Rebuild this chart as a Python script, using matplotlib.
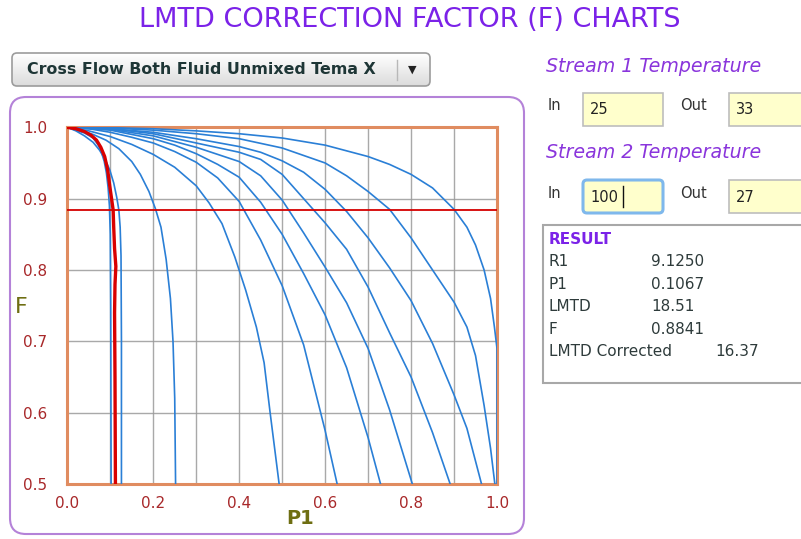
import numpy as np
import matplotlib
matplotlib.use("Agg")
import matplotlib.pyplot as plt
from matplotlib.patches import FancyBboxPatch, Rectangle

# ---------------- data ----------------
title_text = "LMTD CORRECTION FACTOR (F) CHARTS"
dropdown_text = "Cross Flow Both Fluid Unmixed Tema X"

x_ticks = [0.0, 0.2, 0.4, 0.6, 0.8, 1.0]
x_tick_labels = ["0.0", "0.2", "0.4", "0.6", "0.8", "1.0"]
y_ticks = [0.5, 0.6, 0.7, 0.8, 0.9, 1.0]
y_tick_labels = ["0.5", "0.6", "0.7", "0.8", "0.9", "1.0"]

# blue family curves (P1, F)
c1_p = [0, 0.02, 0.04, 0.06, 0.072, 0.08, 0.086, 0.091, 0.095, 0.098, 0.100, 0.101, 0.102]
c1_f = [1, 0.996, 0.992, 0.985, 0.975, 0.964, 0.952, 0.936, 0.915, 0.89, 0.85, 0.75, 0.50]
c2_p = [0, 0.02, 0.04, 0.06, 0.075, 0.088, 0.099, 0.108, 0.115, 0.120, 0.123, 0.125, 0.126, 0.126]
c2_f = [1, 0.995, 0.988, 0.979, 0.968, 0.955, 0.94, 0.922, 0.902, 0.884, 0.86, 0.82, 0.70, 0.50]
c3_p = [0, 0.03, 0.06, 0.09, 0.12, 0.15, 0.17, 0.19, 0.205, 0.218, 0.230, 0.240, 0.246, 0.250, 0.252]
c3_f = [1, 0.996, 0.99, 0.982, 0.97, 0.952, 0.934, 0.91, 0.886, 0.86, 0.815, 0.76, 0.70, 0.62, 0.50]
c4_p = [0, 0.05, 0.10, 0.15, 0.20, 0.25, 0.30, 0.33, 0.36, 0.39, 0.415, 0.44, 0.458, 0.472, 0.493]
c4_f = [1, 0.995, 0.987, 0.976, 0.962, 0.944, 0.918, 0.894, 0.865, 0.818, 0.772, 0.72, 0.67, 0.60, 0.50]
c5_p = [0, 0.05, 0.10, 0.15, 0.20, 0.25, 0.30, 0.35, 0.40, 0.45, 0.50, 0.55, 0.60, 0.628]
c5_f = [1, 0.998, 0.993, 0.986, 0.978, 0.966, 0.951, 0.929, 0.896, 0.842, 0.778, 0.695, 0.575, 0.50]
c6_p = [0, 0.10, 0.20, 0.25, 0.30, 0.35, 0.40, 0.45, 0.50, 0.55, 0.60, 0.65, 0.70, 0.729]
c6_f = [1, 0.996, 0.984, 0.975, 0.963, 0.948, 0.93, 0.895, 0.85, 0.795, 0.737, 0.663, 0.565, 0.50]
c7_p = [0, 0.10, 0.20, 0.30, 0.35, 0.40, 0.45, 0.50, 0.55, 0.60, 0.65, 0.70, 0.75, 0.803]
c7_f = [1, 0.997, 0.988, 0.972, 0.962, 0.952, 0.932, 0.898, 0.852, 0.804, 0.754, 0.69, 0.604, 0.50]
c8_p = [0, 0.10, 0.20, 0.30, 0.40, 0.45, 0.50, 0.55, 0.60, 0.65, 0.70, 0.75, 0.80, 0.85, 0.891]
c8_f = [1, 0.998, 0.991, 0.978, 0.965, 0.955, 0.934, 0.90, 0.866, 0.829, 0.776, 0.712, 0.65, 0.572, 0.50]
c9_p = [0, 0.10, 0.20, 0.30, 0.40, 0.45, 0.50, 0.55, 0.60, 0.65, 0.70, 0.75, 0.80, 0.85, 0.90, 0.93, 0.964]
c9_f = [1, 0.998, 0.993, 0.984, 0.973, 0.965, 0.953, 0.937, 0.913, 0.882, 0.845, 0.803, 0.757, 0.697, 0.625, 0.578, 0.50]
c10_p = [0, 0.10, 0.20, 0.30, 0.40, 0.50, 0.60, 0.65, 0.70, 0.75, 0.80, 0.85, 0.90, 0.93, 0.95, 0.97, 0.985, 0.995]
c10_f = [1, 0.999, 0.996, 0.991, 0.984, 0.971, 0.95, 0.932, 0.91, 0.885, 0.845, 0.80, 0.755, 0.72, 0.68, 0.61, 0.55, 0.50]
c11_p = [0, 0.10, 0.20, 0.30, 0.40, 0.50, 0.60, 0.65, 0.70, 0.75, 0.80, 0.85, 0.90, 0.93, 0.95, 0.97, 0.985, 0.994, 1.0, 1.0]
c11_f = [1, 0.9995, 0.998, 0.995, 0.991, 0.985, 0.975, 0.967, 0.959, 0.948, 0.934, 0.915, 0.885, 0.86, 0.835, 0.80, 0.76, 0.72, 0.69, 0.50]

blue_p = [c1_p, c2_p, c3_p, c4_p, c5_p, c6_p, c7_p, c8_p, c9_p, c10_p, c11_p]
blue_f = [c1_f, c2_f, c3_f, c4_f, c5_f, c6_f, c7_f, c8_f, c9_f, c10_f, c11_f]

# selected curve (R1 = 9.125)
red_p = [0, 0.02, 0.04, 0.055, 0.068, 0.078, 0.087, 0.094, 0.099, 0.103, 0.1067, 0.108, 0.110, 0.113, 0.111, 0.110, 0.111, 0.112]
red_f = [1, 0.998, 0.994, 0.989, 0.982, 0.972, 0.959, 0.94, 0.917, 0.90, 0.8841, 0.86, 0.83, 0.805, 0.78, 0.74, 0.65, 0.50]
f_result = 0.8841

stream1_in, stream1_out = "25", "33"
stream2_in, stream2_out = "100", "27"
result_labels = ["R1", "P1", "LMTD", "F", "LMTD Corrected"]
result_values = ["9.1250", "0.1067", "18.51", "0.8841", "16.37"]

# ---------------- figure ----------------
W, H = 801, 539
fig = plt.figure(figsize=(W / 100, H / 100), dpi=100)
fig.patch.set_facecolor("white")

bg = fig.add_axes([0, 0, 1, 1], zorder=0)
bg.set_xlim(0, W)
bg.set_ylim(H, 0)
bg.axis("off")

purple = "#7B22E8"
italic_purple = "#8A35DC"
dark = "#2E3B3B"

bg.text(410, 20, title_text, ha="center", va="center", fontsize=19.5, color=purple)

# dropdown
dd = FancyBboxPatch((12, 53), 418, 33, boxstyle="round,pad=0,rounding_size=5",
                    facecolor="none", edgecolor="#9c9c9c", lw=1.2, zorder=3)
bg.add_patch(dd)
grad = np.linspace(1.0, 0.86, 50).reshape(-1, 1)
im = bg.imshow(grad, extent=(12, 430, 86, 53), cmap="gray", vmin=0, vmax=1,
               aspect="auto", zorder=2)
im.set_clip_path(dd)
bg.plot([397, 397], [60, 80], color="#b8b8b8", lw=1, zorder=4)
bg.text(412, 70, "\u25BC", ha="center", va="center", fontsize=8, color="#222222", zorder=4)
bg.text(27, 70, dropdown_text, ha="left", va="center", fontsize=11.4,
        fontweight="bold", color="#1E3636", zorder=4)

# chart panel
panel = FancyBboxPatch((10, 97), 514, 437, boxstyle="round,pad=0,rounding_size=16",
                       facecolor="white", edgecolor="#B482D8", lw=1.5, zorder=1)
bg.add_patch(panel)

# right side inputs
bg.text(546, 67, "Stream 1 Temperature", ha="left", va="center", fontsize=13.7,
        style="italic", color=italic_purple)
bg.text(546, 153, "Stream 2 Temperature", ha="left", va="center", fontsize=13.7,
        style="italic", color=italic_purple)
for yy, vin, vout, focus in [(93, stream1_in, stream1_out, False),
                              (180, stream2_in, stream2_out, True)]:
    bg.text(548, yy + 13, "In", ha="left", va="center", fontsize=10.5, color="#333333")
    bg.text(680, yy + 13, "Out", ha="left", va="center", fontsize=10.5, color="#333333")
    if focus:
        b = FancyBboxPatch((583, yy), 80, 33, boxstyle="round,pad=0,rounding_size=4",
                           facecolor="#FFFFCC", edgecolor="#7FB8EC", lw=2.2, zorder=2)
    else:
        b = Rectangle((583, yy), 80, 33, facecolor="#FFFFCC", edgecolor="#BDBDBD", lw=1.2, zorder=2)
    bg.add_patch(b)
    bg.add_patch(Rectangle((729, yy), 80, 33, facecolor="#FFFFCC", edgecolor="#BDBDBD",
                           lw=1.2, zorder=2))
    bg.text(590, yy + 17, vin, ha="left", va="center", fontsize=10.5, color="#222222", zorder=3)
    bg.text(736, yy + 17, vout, ha="left", va="center", fontsize=10.5, color="#222222", zorder=3)
bg.plot([623, 623], [186, 207], color="#111111", lw=1, zorder=3)

# result box
bg.add_patch(Rectangle((543, 225), 270, 158, facecolor="white", edgecolor="#A8A8A8",
                       lw=1.5, zorder=2))
bg.text(549, 239, "RESULT", ha="left", va="center", fontsize=11, fontweight="bold",
        color=purple, zorder=3)
for i, (lab, val) in enumerate(zip(result_labels, result_values)):
    yy = 262 + i * 22.4
    bg.text(549, yy, lab, ha="left", va="center", fontsize=11, color=dark, zorder=3)
    xv = 715 if lab == "LMTD Corrected" else 651
    bg.text(xv, yy, val, ha="left", va="center", fontsize=11, color=dark, zorder=3)

# ---------------- chart axes ----------------
ax = fig.add_axes([67.3 / W, 1 - 484 / H, (497 - 67.3) / W, (484 - 127.3) / H], zorder=5)
ax.set_facecolor("none")
ax.set_xlim(0, 1)
ax.set_ylim(0.5, 1.0)

blue = "#2A7FD6"
for p, f in zip(blue_p, blue_f):
    ax.plot(p, f, color=blue, lw=1.2, solid_joinstyle="round", zorder=3)
ax.plot(red_p, red_f, color="#D90000", lw=2.4, solid_joinstyle="round", zorder=4)
ax.axhline(f_result, color="#D40000", lw=1.3, zorder=4)

ax.set_xticks(x_ticks)
ax.set_xticklabels(x_tick_labels)
ax.set_xticks(np.arange(0.1, 1.0, 0.2), minor=True)
ax.set_yticks(y_ticks)
ax.set_yticklabels(y_tick_labels)
ax.grid(True, which="both", color="#9A9A9A", lw=1.0, alpha=0.85, zorder=1)
ax.set_axisbelow(True)
ax.tick_params(which="both", length=0)
ax.tick_params(axis="y", pad=14.5, labelsize=11, labelcolor="#A8282A")
ax.tick_params(axis="x", pad=8.5, labelsize=11, labelcolor="#A8282A")
for s in ax.spines.values():
    s.set_color("#E08C60")
    s.set_linewidth(2.2)

bg.text(21.5, 307, "F", ha="center", va="center", fontsize=16, color="#6E6E12")
bg.text(300, 518, "P1", ha="center", va="center", fontsize=14, fontweight="bold",
        color="#6E6E12")

fig.savefig("out.png", dpi=100, facecolor="white")
